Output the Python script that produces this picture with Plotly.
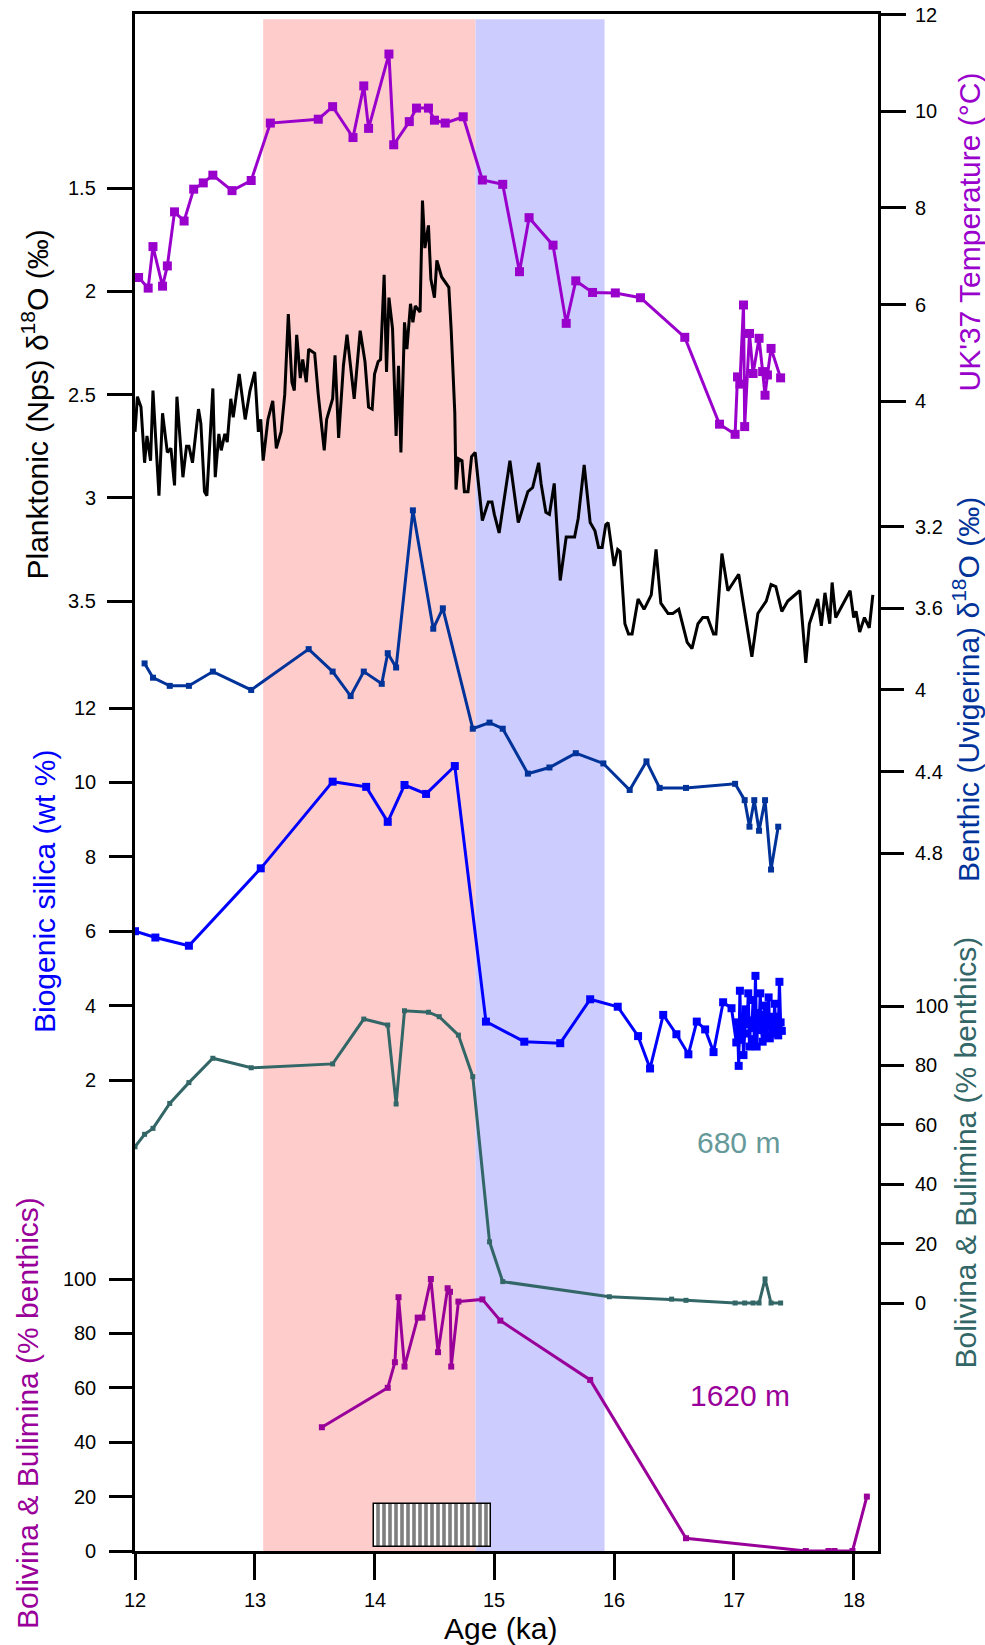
import plotly.graph_objects as go

FONT = "Liberation Sans, Arial, sans-serif"

# ---------------- data ----------------
plank_age = [12.00,12.02,12.05,12.08,12.10,12.13,12.15,12.20,12.23,12.27,12.30,12.33,12.35,12.40,12.43,12.45,12.48,12.53,12.55,12.58,
             12.60,12.65,12.67,12.70,12.72,12.75,12.77,12.80,12.82,12.87,12.92,12.96,13.00,13.03,13.05,13.07,13.11,13.15,13.18,13.22,
             13.25,13.28,13.31,13.33,13.35,13.38,13.40,13.43,13.45,13.50,13.53,13.58,13.60,13.65,13.67,13.70,13.74,13.77,13.83,13.88,
             13.92,13.95,13.98,14.00,14.03,14.05,14.08,14.10,14.12,14.15,14.18,14.20,14.22,14.25,14.27,14.30,14.32,14.34,14.38,14.40,
             14.42,14.45,14.47,14.50,14.52,14.56,14.62,14.64,14.67,14.68,14.70,14.73,14.75,14.78,14.81,14.84,14.90,14.95,14.98,15.00,
             15.04,15.13,15.20,15.28,15.32,15.37,15.39,15.43,15.46,15.50,15.55,15.60,15.67,15.70,15.75,15.80,15.84,15.87,15.90,15.93,
             15.95,16.00,16.03,16.05,16.09,16.12,16.15,16.20,16.25,16.31,16.35,16.39,16.45,16.49,16.54,16.61,16.65,16.70,16.74,16.78,
             16.83,16.85,16.90,16.95,17.04,17.10,17.15,17.20,17.27,17.31,17.35,17.40,17.45,17.55,17.60,17.63,17.70,17.73,17.76,17.80,
             17.82,17.85,17.97,18.00,18.02,18.05,18.09,18.13,18.16]
plank_d18o = [2.68,2.51,2.56,2.83,2.70,2.82,2.48,2.99,2.59,2.78,2.76,2.94,2.51,2.90,2.75,2.75,2.83,2.57,2.64,2.97,
              2.99,2.47,2.90,2.69,2.77,2.69,2.73,2.52,2.61,2.40,2.62,2.48,2.39,2.68,2.62,2.82,2.62,2.53,2.76,2.68,
              2.50,2.11,2.44,2.48,2.21,2.42,2.33,2.44,2.28,2.30,2.50,2.77,2.62,2.52,2.31,2.71,2.36,2.21,2.52,2.19,
              2.34,2.56,2.57,2.40,2.34,2.33,1.92,2.39,2.03,2.18,2.70,2.36,2.78,2.15,2.28,2.06,2.15,2.07,2.10,1.56,
              1.79,1.68,1.94,2.03,1.85,1.93,1.98,2.19,2.59,2.96,2.81,2.82,2.97,2.97,2.80,2.78,3.11,3.02,3.02,3.08,
              3.17,2.82,3.12,2.97,2.95,2.83,2.93,3.07,3.08,2.93,3.40,3.19,3.19,3.10,2.84,3.12,3.16,3.24,3.24,3.13,
              3.12,3.33,3.25,3.26,3.61,3.66,3.66,3.49,3.54,3.47,3.25,3.51,3.56,3.56,3.54,3.70,3.73,3.61,3.58,3.58,
              3.66,3.66,3.27,3.45,3.37,3.59,3.77,3.56,3.50,3.42,3.43,3.55,3.50,3.45,3.80,3.61,3.49,3.62,3.46,3.61,
              3.41,3.58,3.45,3.58,3.55,3.65,3.58,3.63,3.47]

uk37_age = [12.03,12.11,12.15,12.23,12.27,12.33,12.41,12.49,12.57,12.65,12.81,12.97,13.13,13.53,13.65,13.82,13.91,13.95,14.12,14.16,
            14.29,14.35,14.45,14.50,14.59,14.74,14.90,15.07,15.21,15.29,15.49,15.60,15.68,15.82,16.01,16.22,16.59,16.88,17.01,17.03,
            17.05,17.08,17.09,17.13,17.16,17.21,17.24,17.26,17.28,17.31,17.39]
uk37_temp = [6.56,6.34,7.20,6.38,6.80,7.92,7.73,8.39,8.52,8.68,8.36,8.57,9.76,9.84,10.10,9.46,10.53,9.65,11.19,9.31,
             9.79,10.07,10.07,9.82,9.76,9.89,8.58,8.49,6.68,7.80,7.23,5.61,6.49,6.25,6.24,6.14,5.32,3.52,3.31,4.50,
             4.35,5.99,3.47,5.40,4.57,5.30,4.61,4.12,4.54,5.09,4.48]

benth_age = [12.08,12.15,12.29,12.45,12.65,12.97,13.45,13.65,13.80,13.91,14.06,14.11,14.18,14.32,14.49,14.57,14.82,14.96,15.07,15.28,
             15.46,15.68,15.91,16.13,16.27,16.38,16.60,17.01,17.09,17.13,17.17,17.21,17.26,17.31,17.37]
benth_d18o = [3.87,3.94,3.98,3.98,3.91,4.00,3.80,3.91,4.03,3.91,3.97,3.82,3.89,3.12,3.70,3.60,4.19,4.16,4.19,4.41,
              4.38,4.31,4.36,4.49,4.35,4.48,4.48,4.46,4.54,4.67,4.54,4.69,4.54,4.88,4.67]

silica_age = [12.00,12.17,12.45,13.05,13.65,13.93,14.11,14.25,14.43,14.67,14.93,15.25,15.55,15.80,16.03,16.20,16.30,16.41,16.52,16.62,
              16.69,16.76,16.83,16.91,16.98,17.02,17.03,17.04,17.05,17.06,17.07,17.08,17.09,17.10,17.11,17.12,17.13,17.14,17.15,17.16,
              17.17,17.18,17.19,17.20,17.21,17.22,17.23,17.24,17.25,17.26,17.27,17.28,17.29,17.30,17.31,17.32,17.33,17.34,17.35,17.36,
              17.37,17.38,17.39,17.40]
silica_wt = [6.00,5.83,5.61,7.69,10.02,9.88,8.94,9.93,9.69,10.44,3.57,3.03,2.99,4.17,3.97,3.18,2.31,3.75,3.23,2.69,
             3.57,3.36,2.75,4.09,3.93,3.01,3.55,2.38,4.40,3.08,3.70,2.67,3.25,3.90,3.50,4.33,2.90,3.60,3.40,4.15,
             3.10,4.80,2.90,3.80,3.45,4.33,3.34,3.03,3.75,4.00,3.20,3.60,4.22,3.12,3.55,3.70,3.25,4.05,3.40,3.70,
             3.20,4.64,3.55,3.32]

bb680_age = [12.00,12.08,12.15,12.29,12.45,12.65,12.97,13.65,13.91,14.11,14.18,14.25,14.45,14.54,14.70,14.82,14.96,15.07,15.96,16.48,
             16.60,17.01,17.09,17.16,17.21,17.26,17.31,17.39]
bb680_pct = [52.6,56.8,58.8,67.2,74.2,82.4,79.2,80.5,95.6,93.6,67.0,98.4,97.9,96.4,90.2,76.2,20.6,7.2,2.1,1.3,
             0.9,0.0,0.0,0.0,0.0,8.1,0.0,0.0]

bb1620_age = [13.56,14.11,14.17,14.20,14.25,14.36,14.40,14.47,14.53,14.61,14.63,14.64,14.70,14.90,15.05,15.80,16.60,17.60,17.79,17.84,
              17.99,18.11]
bb1620_pct = [45.5,60.0,69.4,93.3,67.8,85.8,85.8,100.0,73.1,96.6,95.3,67.8,91.7,92.5,84.7,62.9,4.7,0.0,0.0,0.0,
              0.0,20.0]

# hatched age-uncertainty box (on the 1620 m axis)
box_center = [14.485]
box_width = [0.975]
box_base = [1.5]
box_height = [15.7]

# shaded intervals (ka)
pink_span = [13.07, 14.843]
blue_span = [14.843, 15.92]

# tick values
x_ticks = [12, 13, 14, 15, 16, 17, 18]
x_minor = [12.5, 13.5, 14.5, 15.5, 16.5, 17.5]
plank_ticks = [1.5, 2, 2.5, 3, 3.5]
plank_labels = ["1.5", "2", "2.5", "3", "3.5"]
plank_minor = [1.75, 2.25, 2.75, 3.25]
silica_ticks = [2, 4, 6, 8, 10, 12]
silica_minor = [3, 5, 7, 9, 11]
pct_ticks = [0, 20, 40, 60, 80, 100]
pct_minor = [10, 30, 50, 70, 90]
uk_ticks = [4, 6, 8, 10, 12]
uk_minor = [3, 5, 7, 9, 11]
benth_ticks = [3.2, 3.6, 4.0, 4.4, 4.8]
benth_labels = ["3.2", "3.6", "4", "4.4", "4.8"]
benth_minor = [3.0, 3.4, 3.8, 4.2, 4.6, 5.0]

# ---------------- figure ----------------
W, H = 985, 1645
L, R, T, B = 135, 107, 14, 94
PW, PH = W - L - R, H - T - B


def px_x(px):
    return (px - L) / PW


def px_y(py):
    return (H - B - py) / PH


fig = go.Figure()

fig.add_trace(go.Scatter(x=plank_age, y=plank_d18o, mode="lines",
                         line=dict(color="black", width=3), yaxis="y"))
fig.add_trace(go.Scatter(x=silica_age, y=silica_wt, mode="lines+markers",
                         line=dict(color="#0000FF", width=3),
                         marker=dict(symbol="square", size=8, color="#0000FF"), yaxis="y2"))
fig.add_trace(go.Bar(x=box_center, y=box_height, base=box_base, width=box_width, yaxis="y3",
                     marker=dict(color="white", line=dict(color="black", width=1.5),
                                 pattern=dict(shape="|", size=6, solidity=0.6,
                                              fgcolor="black", bgcolor="white"))))
fig.add_trace(go.Scatter(x=bb1620_age, y=bb1620_pct, mode="lines+markers",
                         line=dict(color="#990099", width=3),
                         marker=dict(symbol="square", size=6, color="#990099"), yaxis="y3"))
fig.add_trace(go.Scatter(x=uk37_age, y=uk37_temp, mode="lines+markers",
                         line=dict(color="#9900CC", width=3),
                         marker=dict(symbol="square", size=9, color="#9900CC"), yaxis="y4"))
fig.add_trace(go.Scatter(x=benth_age, y=benth_d18o, mode="lines+markers",
                         line=dict(color="#003399", width=3),
                         marker=dict(symbol="square", size=6, color="#003399"), yaxis="y5"))
fig.add_trace(go.Scatter(x=bb680_age, y=bb680_pct, mode="lines+markers",
                         line=dict(color="#336666", width=3),
                         marker=dict(symbol="square", size=5, color="#336666"), yaxis="y6"))

TW = 2.5


def yax(rng, vals, ticklen, side="left", overlay=True, showline=False):
    d = dict(range=rng, tickmode="array", tickvals=vals, ticks="outside", ticklen=ticklen,
             tickwidth=TW, tickcolor="black", showticklabels=False, showgrid=False,
             zeroline=False, side=side, anchor="x", automargin=False,
             showline=showline, linecolor="black", linewidth=2.5)
    if overlay:
        d["overlaying"] = "y"
    return d


ranges = {
    "plank": [8.102, 0.656],
    "silica": [-10.661, 30.656],
    "b1620": [0, 565.07],
    "uk": [-19.83, 12.02],
    "benth": [8.219, 0.688],
    "b680": [-83.5, 434.0],
}
x_range = [12, 18.203]

fig.update_layout(
    width=W, height=H, autosize=False,
    margin=dict(l=L, r=R, t=T, b=B, pad=0, autoexpand=False),
    paper_bgcolor="white", plot_bgcolor="white",
    showlegend=False, bargap=0,
    font=dict(family=FONT, color="black"),
    xaxis=dict(range=x_range, tickmode="array", tickvals=x_ticks, ticks="outside",
               ticklen=26, tickwidth=TW, tickcolor="black", showticklabels=False,
               showgrid=False, zeroline=False, showline=True, mirror=True, automargin=False,
               linecolor="black", linewidth=2.5),
    xaxis2=dict(range=x_range, overlaying="x", anchor="y", side="bottom", tickmode="array",
                tickvals=x_minor, ticks="outside", ticklen=14, tickwidth=TW, tickcolor="black",
                showticklabels=False, showgrid=False, zeroline=False, showline=False,
                automargin=False),
    yaxis=yax(ranges["plank"], plank_ticks, 25, overlay=False, showline=True),
    yaxis2=yax(ranges["silica"], silica_ticks, 25),
    yaxis3=yax(ranges["b1620"], pct_ticks, 25),
    yaxis4=yax(ranges["uk"], uk_ticks, 25, side="right", showline=True),
    yaxis5=yax(ranges["benth"], benth_ticks, 25, side="right"),
    yaxis6=yax(ranges["b680"], pct_ticks, 25, side="right"),
    # minor ticks
    yaxis7=yax(ranges["plank"], plank_minor, 13),
    yaxis8=yax(ranges["silica"], silica_minor, 13),
    yaxis9=yax(ranges["b1620"], pct_minor, 13),
    yaxis10=yax(ranges["uk"], uk_minor, 14, side="right"),
    yaxis11=yax(ranges["benth"], benth_minor, 14, side="right"),
    yaxis12=yax(ranges["b680"], pct_minor, 14, side="right"),
)

fig.add_shape(type="rect", xref="x", yref="paper", x0=pink_span[0], x1=pink_span[1],
              y0=0, y1=px_y(19.3), fillcolor="#FFCCCC", line=dict(width=0), layer="below")
fig.add_shape(type="rect", xref="x", yref="paper", x0=blue_span[0], x1=blue_span[1],
              y0=px_y(1554), y1=px_y(19.3), fillcolor="#CCCCFF", line=dict(width=0), layer="below")

# ---- tick labels as text placed through the axes' scales ----
tf = dict(family=FONT, size=20, color="black")


def ylabels(vals, labels, yref, side):
    for v, t in zip(vals, labels):
        if side == "left":
            fig.add_annotation(text=t, xref="paper", yref=yref, x=px_x(98), y=v,
                               xanchor="right", yanchor="middle", showarrow=False, font=tf)
        else:
            fig.add_annotation(text=t, xref="paper", yref=yref, x=px_x(913), y=v,
                               xanchor="left", yanchor="middle", showarrow=False, font=tf)


ylabels(plank_ticks, plank_labels, "y", "left")
ylabels(silica_ticks, [str(v) for v in silica_ticks], "y2", "left")
ylabels(pct_ticks, [str(v) for v in pct_ticks], "y3", "left")
ylabels(uk_ticks, [str(v) for v in uk_ticks], "y4", "right")
ylabels(benth_ticks, benth_labels, "y5", "right")
ylabels(pct_ticks, [str(v) for v in pct_ticks], "y6", "right")
for v in x_ticks:
    fig.add_annotation(text=str(v), xref="x", yref="paper", x=v, y=px_y(1600),
                       xanchor="center", yanchor="middle", showarrow=False, font=tf)

titles = [
    ("Planktonic (Nps) δ<sup>18</sup>O (‰)", 35.5, 405, "black"),
    ("Biogenic silica (wt %)", 44, 892, "#0000FF"),
    ("Bolivina & Bulimina (% benthics)", 27, 1413, "#990099"),
    ("UK'37 Temperature (°C)", 969.5, 232, "#9900CC"),
    ("Benthic (Uvigerina) δ<sup>18</sup>O (‰)", 966, 690, "#003399"),
    ("Bolivina & Bulimina (% benthics)", 964.5, 1152, "#336666"),
]
for txt, px, py, col in titles:
    fig.add_annotation(text=txt, xref="paper", yref="paper", x=px_x(px), y=px_y(py),
                       xanchor="center", yanchor="middle", textangle=-90, showarrow=False,
                       font=dict(family=FONT, size=30, color=col))

fig.add_annotation(text="Age (ka)", xref="paper", yref="paper", x=px_x(500), y=px_y(1629),
                   xanchor="center", yanchor="middle", showarrow=False,
                   font=dict(family=FONT, size=30, color="black"))
fig.add_annotation(text="680 m", xref="paper", yref="paper", x=px_x(738.5), y=px_y(1142),
                   xanchor="center", yanchor="middle", showarrow=False,
                   font=dict(family=FONT, size=30, color="#669999"))
fig.add_annotation(text="1620 m", xref="paper", yref="paper", x=px_x(740), y=px_y(1395),
                   xanchor="center", yanchor="middle", showarrow=False,
                   font=dict(family=FONT, size=30, color="#990099"))

fig.write_html("out.html")
